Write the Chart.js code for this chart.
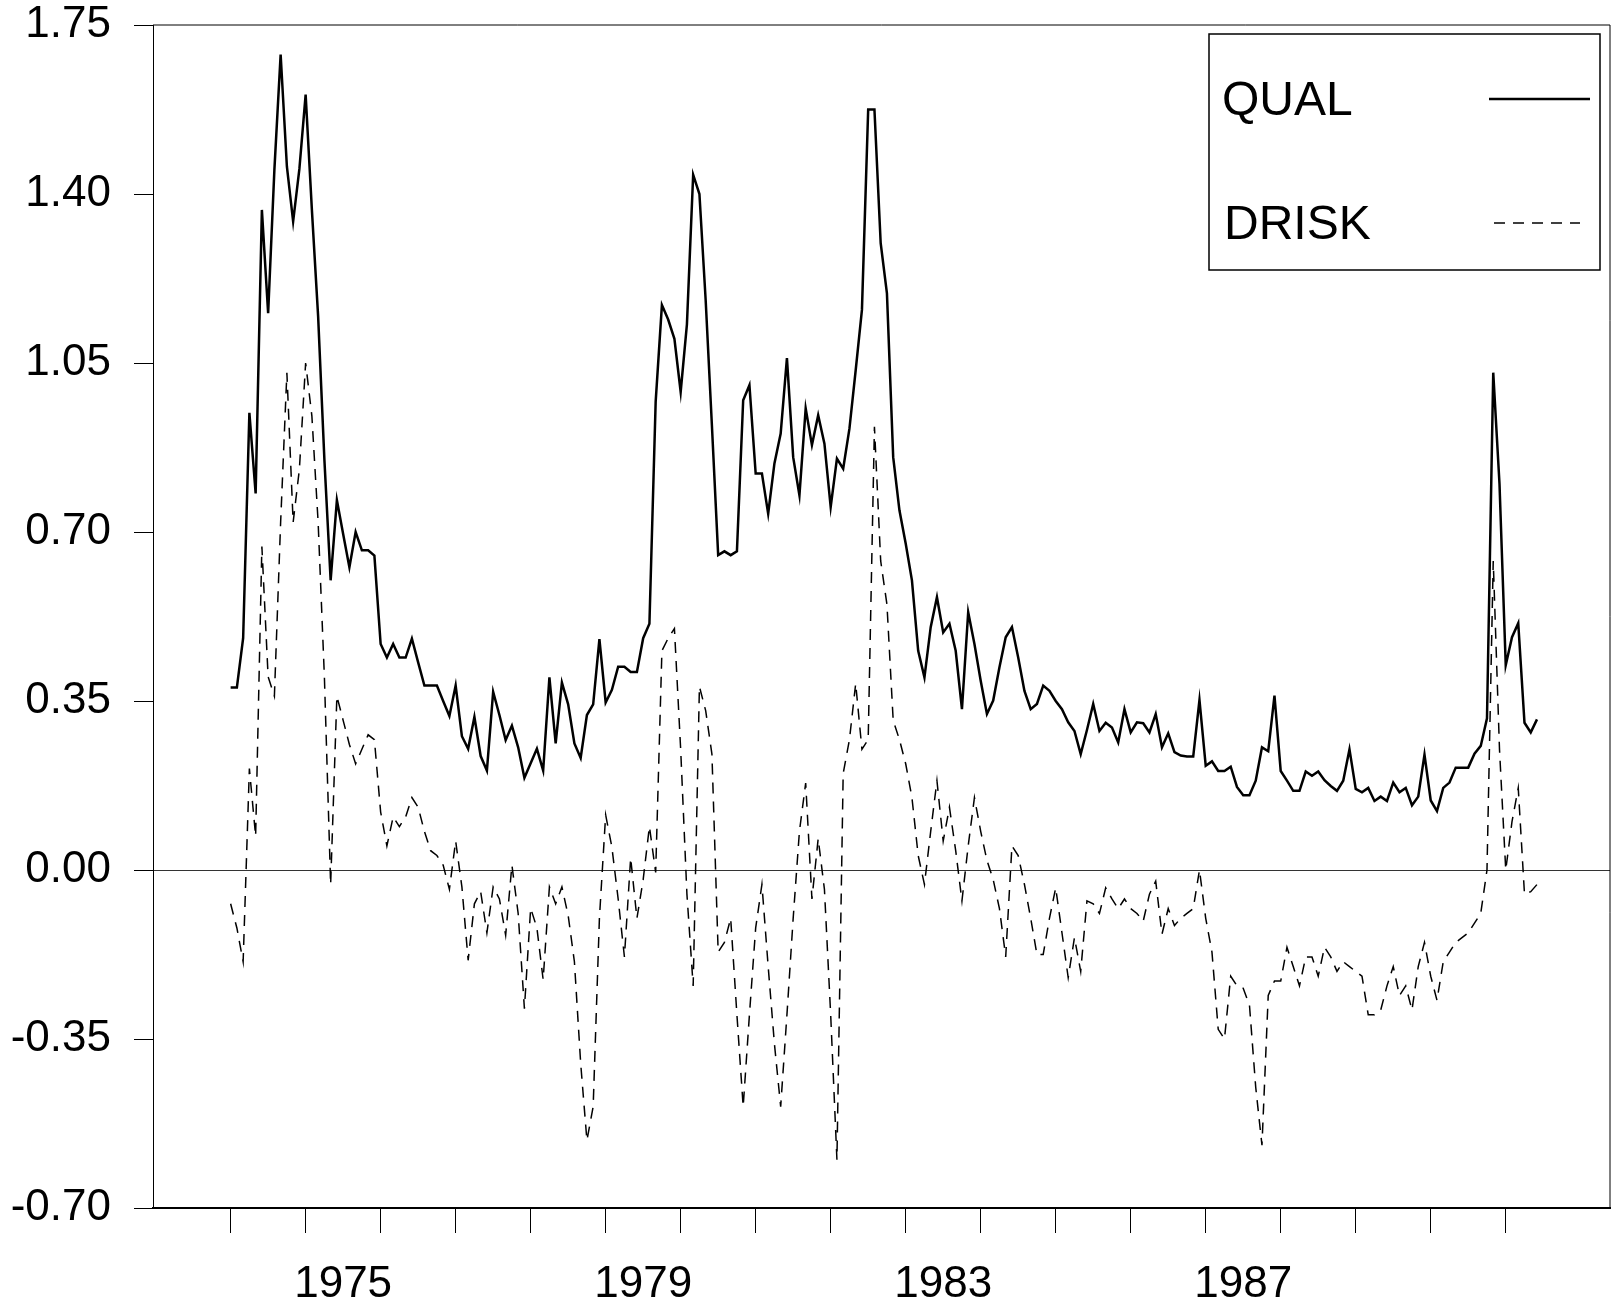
<!DOCTYPE html>
<html>
<head>
    <meta http-equiv="Content-Type" content="text/html; charset=UTF-8" />
    <title>QUAL and DRISK</title>
    <script src="https://cdn.jsdelivr.net/npm/chart.js"></script>
    <style>
        html, body { margin: 0; padding: 0; background: #ffffff; }
        #chartContainer { width: 1614px; height: 1307px; }
    </style>
</head>

<body>
    <div id="chartContainer">
        <canvas id="spreadChart"></canvas>
    </div>

    <script type="text/javascript">
        // monthly observations, first one is January 1974
        const startYear = 1974;

        const qual = [
            0.378, 0.378, 0.48, 0.947, 0.78, 1.367, 1.153, 1.45, 1.689, 1.457, 1.343, 1.452,
            1.606, 1.367, 1.146, 0.85, 0.600, 0.766, 0.696, 0.627, 0.70, 0.662, 0.662, 0.651,
            0.468, 0.44, 0.468, 0.44, 0.44, 0.479, 0.43, 0.382, 0.382, 0.382, 0.35, 0.319,
            0.382, 0.277, 0.251, 0.317, 0.236, 0.206, 0.369, 0.321, 0.269, 0.299, 0.254, 0.191,
            0.221, 0.251, 0.206, 0.399, 0.262, 0.388, 0.343, 0.262, 0.232, 0.321, 0.343, 0.478,
            0.347, 0.373, 0.421, 0.421, 0.41, 0.41, 0.48, 0.51, 0.97, 1.17, 1.14, 1.10,
            0.99, 1.13, 1.44, 1.40, 1.18, 0.92, 0.652, 0.66, 0.652, 0.66, 0.973, 1.004,
            0.821, 0.821, 0.738, 0.842, 0.904, 1.06, 0.855, 0.776, 0.956, 0.88, 0.942, 0.883,
            0.752, 0.852, 0.831, 0.914, 1.035, 1.16, 1.575, 1.575, 1.298, 1.194, 0.855, 0.745,
            0.676, 0.60, 0.454, 0.399, 0.503, 0.565, 0.492, 0.51, 0.454, 0.333, 0.534, 0.468,
            0.392, 0.323, 0.351, 0.42, 0.482, 0.503, 0.44, 0.371, 0.333, 0.344, 0.382, 0.371,
            0.35, 0.333, 0.306, 0.288, 0.24, 0.29, 0.344, 0.288, 0.305, 0.295, 0.264, 0.333,
            0.285, 0.306, 0.304, 0.285, 0.323, 0.254, 0.283, 0.244, 0.237, 0.235, 0.235, 0.352,
            0.216, 0.225, 0.205, 0.205, 0.214, 0.172, 0.155, 0.155, 0.185, 0.254, 0.246, 0.361,
            0.205, 0.185, 0.164, 0.164, 0.204, 0.195, 0.204, 0.186, 0.174, 0.164, 0.185, 0.25,
            0.168, 0.161, 0.17, 0.143, 0.152, 0.143, 0.181, 0.161, 0.17, 0.134, 0.152, 0.239,
            0.144, 0.122, 0.17, 0.181, 0.212, 0.212, 0.212, 0.241, 0.257, 0.314, 1.03, 0.80,
            0.424, 0.482, 0.511, 0.305, 0.285, 0.312
        ];

        const drisk = [
            -0.07, -0.12, -0.19, 0.21, 0.07, 0.67, 0.40, 0.36, 0.72, 1.03, 0.72, 0.83,
            1.05, 0.94, 0.72, 0.40, -0.03, 0.36, 0.31, 0.26, 0.22, 0.25, 0.28, 0.27,
            0.12, 0.05, 0.11, 0.09, 0.11, 0.15, 0.13, 0.08, 0.04, 0.03, 0.01, -0.04,
            0.06, -0.035, -0.187, -0.07, -0.045, -0.13, -0.035, -0.06, -0.135, 0.01, -0.09, -0.287,
            -0.079, -0.12, -0.227, -0.035, -0.07, -0.035, -0.094, -0.19, -0.40, -0.56, -0.49, -0.10,
            0.114, 0.047, -0.06, -0.18, 0.025, -0.10, -0.02, 0.09, -0.005, 0.454, 0.48, 0.50,
            0.25, -0.05, -0.24, 0.38, 0.33, 0.24, -0.17, -0.15, -0.10, -0.30, -0.49, -0.30,
            -0.12, -0.03, -0.20, -0.36, -0.49, -0.30, -0.10, 0.08, 0.18, -0.06, 0.065, -0.04,
            -0.30, -0.60, 0.20, 0.27, 0.386, 0.25, 0.27, 0.918, 0.64, 0.55, 0.31, 0.27,
            0.22, 0.15, 0.03, -0.03, 0.08, 0.185, 0.06, 0.13, 0.04, -0.064, 0.05, 0.15,
            0.08, 0.02, -0.02, -0.08, -0.18, 0.05, 0.03, -0.03, -0.10, -0.175, -0.175, -0.10,
            -0.037, -0.13, -0.223, -0.14, -0.21, -0.064, -0.07, -0.09, -0.037, -0.06, -0.08, -0.06,
            -0.08, -0.09, -0.106, -0.05, -0.023, -0.133, -0.08, -0.115, -0.10, -0.09, -0.08, 0.0,
            -0.10, -0.17, -0.33, -0.35, -0.22, -0.24, -0.245, -0.28, -0.45, -0.57, -0.26, -0.23,
            -0.23, -0.16, -0.20, -0.24, -0.18, -0.18, -0.22, -0.16, -0.18, -0.21, -0.19, -0.20,
            -0.21, -0.22, -0.30, -0.30, -0.29, -0.24, -0.20, -0.26, -0.24, -0.29, -0.20, -0.15,
            -0.22, -0.27, -0.19, -0.17, -0.15, -0.14, -0.13, -0.11, -0.09, 0.0, 0.64, 0.25,
            0.0, 0.10, 0.17, -0.05, -0.045, -0.03
        ];

        const seriesNames = ['QUAL', 'DRISK'];
        const yearTicks = [1974, 1975, 1976, 1977, 1978, 1979, 1980, 1981, 1982,
                           1983, 1984, 1985, 1986, 1987, 1988, 1989, 1990, 1991];
        const yearLabels = [1975, 1979, 1983, 1987];
        const valueTicks = [-0.70, -0.35, 0.00, 0.35, 0.70, 1.05, 1.40, 1.75];

        const months = qual.map((v, i) => startYear + i / 12);
        const labelFont = { family: "'Liberation Sans', Arial, sans-serif", size: 44, lineHeight: 1.1 };

        // top and right edges of the frame plus the key in the top right corner
        const frameAndKey = {
            id: 'frameAndKey',
            afterDraw(chart) {
                const ctx = chart.ctx;
                const a = chart.chartArea;
                ctx.save();
                ctx.strokeStyle = '#000';
                ctx.lineWidth = 1;
                ctx.beginPath();
                ctx.moveTo(a.left, a.top);
                ctx.lineTo(a.right, a.top);
                ctx.lineTo(a.right, a.bottom);
                ctx.stroke();

                const bx = a.right - 401, by = a.top + 9, bw = 391, bh = 236;
                ctx.fillStyle = '#fff';
                ctx.fillRect(bx, by, bw, bh);
                ctx.lineWidth = 1.5;
                ctx.strokeRect(bx, by, bw, bh);

                ctx.fillStyle = '#000';
                ctx.font = "48px 'Liberation Sans', Arial, sans-serif";
                ctx.textBaseline = 'middle';
                ctx.textAlign = 'left';
                ctx.fillText(seriesNames[0], bx + 13, by + 68);
                ctx.fillText(seriesNames[1], bx + 15, by + 192);

                ctx.lineWidth = 2.5;
                ctx.beginPath();
                ctx.moveTo(bx + 280, by + 65);
                ctx.lineTo(bx + 381, by + 65);
                ctx.stroke();

                ctx.lineWidth = 1.5;
                ctx.setLineDash([11, 8]);
                ctx.beginPath();
                ctx.moveTo(bx + 285, by + 189);
                ctx.lineTo(bx + 371, by + 189);
                ctx.stroke();
                ctx.restore();
            }
        };

        const ctx = document.getElementById('spreadChart').getContext('2d');
        const spreadChart = new Chart(ctx, {
            type: 'line',
            data: {
                labels: months,
                datasets: [
                    {
                        label: seriesNames[0],
                        data: qual,
                        borderColor: '#000',
                        borderWidth: 2.5,
                        pointRadius: 0,
                        fill: false
                    },
                    {
                        label: seriesNames[1],
                        data: drisk,
                        borderColor: '#000',
                        borderWidth: 1.5,
                        borderDash: [11, 8],
                        pointRadius: 0,
                        fill: false
                    }
                ]
            },
            options: {
                responsive: true,
                maintainAspectRatio: false,
                animation: false,
                layout: { padding: { top: 25, right: 4, left: 0, bottom: 0 } },
                plugins: {
                    legend: { display: false },
                    tooltip: { enabled: false }
                },
                scales: {
                    x: {
                        type: 'linear',
                        min: 1972.965,
                        max: 1992.39,
                        afterBuildTicks: (scale) => { scale.ticks = yearTicks.map(v => ({ value: v })); },
                        afterFit: (scale) => {
                            scale.height = 99;
                            scale.paddingLeft = 0;
                            scale.paddingRight = 0;
                        },
                        grid: { drawOnChartArea: false, drawTicks: true, tickLength: 25, color: '#000', lineWidth: 1 },
                        border: { display: true, color: '#000', width: 2 },
                        ticks: {
                            autoSkip: false,
                            maxRotation: 0,
                            labelOffset: 37.5,
                            padding: 28,
                            color: '#000',
                            font: labelFont,
                            callback: (v) => yearLabels.includes(v) ? String(v) : ''
                        }
                    },
                    y: {
                        min: -0.70,
                        max: 1.75,
                        afterBuildTicks: (scale) => { scale.ticks = valueTicks.map(v => ({ value: v })); },
                        afterFit: (scale) => {
                            scale.width = 153;
                            scale.paddingTop = 0;
                            scale.paddingBottom = 0;
                        },
                        grid: {
                            drawTicks: true,
                            tickLength: 19,
                            tickColor: '#000',
                            tickWidth: 1,
                            lineWidth: 1,
                            color: (c) => c.tick && c.tick.value === 0 ? '#333' : 'rgba(0,0,0,0)'
                        },
                        border: { display: true, color: '#000', width: 1 },
                        ticks: {
                            padding: 23,
                            color: '#000',
                            font: labelFont,
                            callback: (v) => v.toFixed(2)
                        }
                    }
                }
            },
            plugins: [frameAndKey]
        });
    </script>
</body>
</html>
